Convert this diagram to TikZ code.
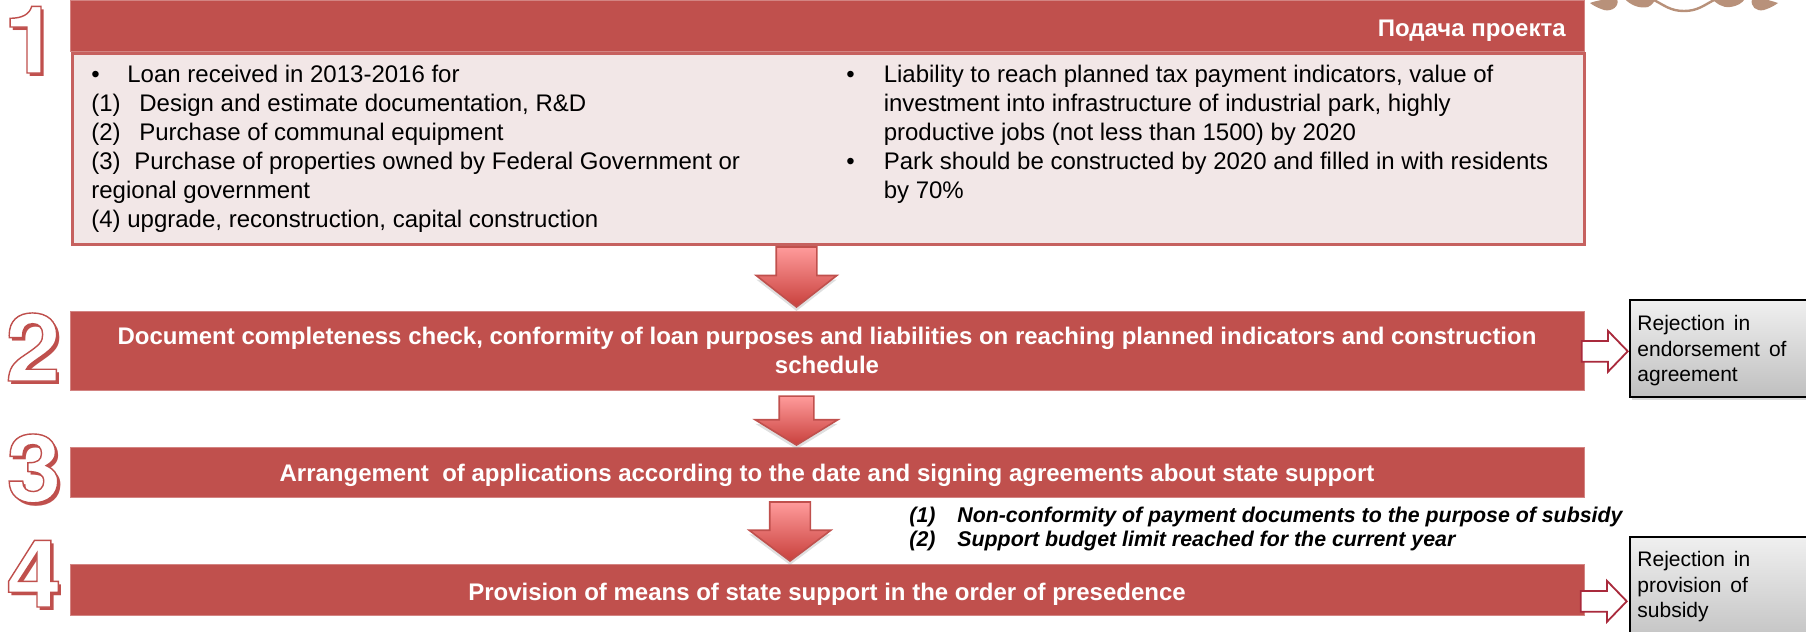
\documentclass[tikz,border=0pt]{standalone}
\usepackage{fontspec}
\setmainfont{Liberation Sans}
\newfontfamily\numberfont[FakeStretch=1.06]{TeX Gyre Heros}
\usepackage{tikz}
\usetikzlibrary{calc,shapes.arrows,shadows}
\definecolor{brickred}{HTML}{C0504D}
\definecolor{paleback}{HTML}{F2E7E7}
\definecolor{hollowred}{HTML}{A92A3C}
\definecolor{ribbontan}{HTML}{B8917A}
\definecolor{arrowtop}{HTML}{FF9B9B}
\definecolor{arrowbottom}{HTML}{C8403C}
\newcommand{\lead}[2]{\makebox[#1][l]{#2}}
\newcommand{\outlined}[1]{\special{pdf:code q 2 Tr 0.7 w 0.75 0.31 0.30 RG 1 1 1 rg}#1\special{pdf:code Q}}
\tikzset{
    stepbar/.style={fill=brickred, draw=brickred!70!white, line width=0.5pt, inner sep=0pt, text=white,
            font=\fontsize{12}{14.5}\selectfont\bfseries, align=center},
    downarrow/.style={single arrow, single arrow head indent=0pt, inner xsep=0pt, rotate=-90, anchor=tip,
            draw=brickred, line width=0.8pt, top color=arrowtop, bottom color=arrowbottom,
            drop shadow={shadow xshift=0pt, shadow yshift=-2pt, opacity=0.25}},
    sidearrow/.style={single arrow, single arrow head indent=0pt, inner xsep=0pt, inner ysep=4.75pt, anchor=tip, fill=white,
            draw=hollowred, line width=0.9pt, minimum height=23pt,
            single arrow head extend=5pt, single arrow tip angle=92},
    rejectbox/.style={draw=black, line width=0.8pt, top color=gray!12, bottom color=gray!50, anchor=north west,
            minimum width=95pt, inner sep=0pt,
            drop shadow={shadow xshift=1pt, shadow yshift=-1.5pt, opacity=0.3}},
    bignum/.style={font=\fontsize{47}{47}\selectfont\numberfont\bfseries, inner sep=0pt, anchor=base},
    bodytext/.style={font=\fontsize{12}{14.5}\selectfont, inner sep=0pt, anchor=north west, align=left},
    rejecttext/.style={font=\fontsize{10.5}{12.8}\selectfont, inner sep=0pt, anchor=north west, align=left}
}
\begin{document}
\begin{tikzpicture}[x=0.5pt,y=-0.5pt]
    \useasboundingbox (0,0) rectangle (1806,632);
    \clip (0,0) rectangle (1806,632);
    % big step numbers
    \foreach \num/\numx/\numy in {1/31/73, 2/33/381, 3/34/502, 4/34/607}{
            \node[bignum, text=brickred] (shadow\num) at (\numx+3,\numy+3) {\num};
            \node[bignum] (number\num) at (\numx,\numy) {\outlined{\num}};
        }
    % ribbon at the top right
    \fill[ribbontan] (1590,3) .. controls (1598,0) and (1604,0) .. (1606,-1) -- (1617,-1) .. controls (1620,6) and (1612,12) .. (1604,10) .. controls (1598,8) and (1594,6) .. (1590,3) -- cycle;
    \fill[ribbontan] (1625,-1) .. controls (1630,5) and (1640,9) .. (1648,7) .. controls (1652,5) and (1654,2) .. (1656,-1) -- cycle;
    \draw[ribbontan, line width=1.2pt] (1652,-1) .. controls (1664,5) and (1670,11) .. (1684,11) .. controls (1698,11) and (1704,5) .. (1716,-1);
    \fill[ribbontan] (1712,-1) .. controls (1716,3) and (1722,8) .. (1730,7) .. controls (1738,6) and (1742,3) .. (1745,-1) -- cycle;
    \fill[ribbontan] (1752,-1) .. controls (1750,6) and (1756,12) .. (1764,10) .. controls (1770,8) and (1774,6) .. (1778,3) .. controls (1772,1) and (1768,0) .. (1764,-1) -- cycle;
    % first step
    \node[stepbar, minimum width=757pt, minimum height=25.5pt, anchor=north west] (header) at (70,0) {};
    \node[inner sep=0pt, text=white, anchor=east, font=\fontsize{12}{14.5}\selectfont\bfseries] (title) at (1566,31) {Подача проекта};
    \node[fill=paleback, draw=brickred!90!white, line width=1.3pt, minimum width=756pt, minimum height=95.5pt, anchor=north west] (body) at (71,52) {};
    \node[bodytext] (loan) at (91,65) {%
        \lead{18pt}{•}Loan received in 2013-2016 for\\
        \lead{24pt}{(1)}Design and estimate documentation, R\&D\\
        \lead{24pt}{(2)}Purchase of communal equipment\\
        \lead{21.5pt}{(3)}Purchase of properties owned by Federal Government or\\
        regional government\\
        \lead{18pt}{(4)}upgrade, reconstruction, capital construction};
    \node[bodytext] (liability) at (846,65) {%
        \lead{18.7pt}{•}Liability to reach planned tax payment indicators, value of\\
        \lead{18.7pt}{}investment into infrastructure of industrial park, highly\\
        \lead{18.7pt}{}productive jobs (not less than 1500) by 2020\\
        \lead{18.7pt}{•}Park should be constructed by 2020 and filled in with residents\\
        \lead{18.7pt}{}by 70\%};
    % other steps
    \node[stepbar, minimum width=757pt, minimum height=39.5pt] (check) at (827,350.5) {Document completeness check, conformity of loan purposes and liabilities on reaching planned indicators and construction\\schedule};
    \node[stepbar, minimum width=757pt, minimum height=25pt] (arrange) at (827,472) {\rule{0pt}{11.9pt}Arrangement\ \ of applications according to the date and signing agreements about state support};
    \node[stepbar, minimum width=757pt, minimum height=25.5pt] (provide) at (827,589.5) {\rule{0pt}{13.3pt}Provision of means of state support in the order of presedence};
    % arrows between the steps
    \node[downarrow, inner ysep=9.75pt, minimum height=30pt, single arrow head extend=10pt, single arrow tip angle=104] (arrowA) at (796.5,308) {};
    \node[downarrow, inner ysep=8.25pt, minimum height=24.5pt, single arrow head extend=12pt, single arrow tip angle=117] (arrowB) at (796.5,446) {};
    \node[downarrow, inner ysep=9.75pt, minimum height=29.5pt, single arrow head extend=10.25pt, single arrow tip angle=106] (arrowC) at (790,562) {};
    % rejections
    \node[rejectbox, minimum height=48.5pt] (rejectA) at (1629,299) {};
    \node[rejectbox, minimum height=56.5pt] (rejectB) at (1629,536) {};
    \node[rejecttext] (rejectAtext) at (1637,315) {Rejection\hspace{1.6pt} in\\endorsement\hspace{1.6pt} of\\agreement};
    \node[rejecttext] (rejectBtext) at (1637,551) {Rejection\hspace{1.6pt} in\\provision\hspace{1.6pt} of\\subsidy};
    \node[sidearrow] (sideA) at ($(rejectA.west)+(0,3)$) {};
    \node[sidearrow] (sideB) at ($(rejectB.west)+(-1,8)$) {};
    % reasons for the second rejection
    \node[inner sep=0pt, anchor=north west, align=left, font=\fontsize{10.67}{12}\selectfont\bfseries\itshape] (reasons) at (909,506.5) {%
        \lead{24pt}{(1)}Non-conformity of payment documents to the purpose of subsidy\\
        \lead{24pt}{(2)}Support budget limit reached for the current year};
\end{tikzpicture}
\end{document}
